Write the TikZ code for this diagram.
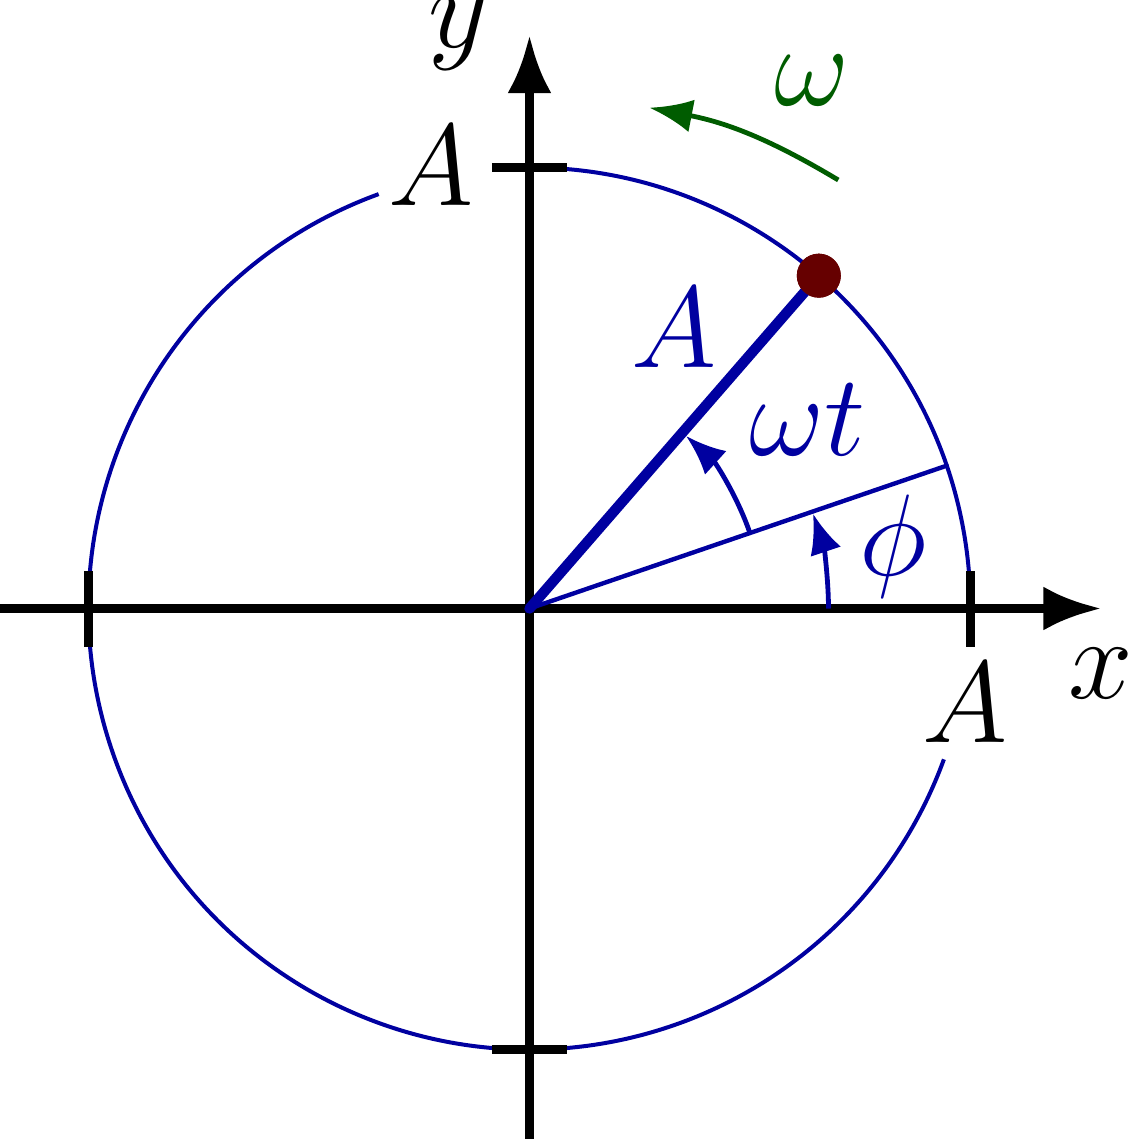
\documentclass[tikz,border=0pt]{standalone}
\usetikzlibrary{arrows.meta}
\definecolor{cblue}{HTML}{0000A0}
\definecolor{cred}{HTML}{660000}
\definecolor{cgreen}{HTML}{005C00}
\begin{document}
\begin{tikzpicture}[x=0.25pt,y=0.25pt,
  axis/.style={line width=2.25pt, -{Latex[length=14.5pt,width=11pt]}},
  tickmark/.style={line width=2.3pt},
  circ/.style={cblue, line width=1pt},
  vec/.style={cblue, line width=2.6pt, line cap=round},
  thinvec/.style={cblue, line width=1.1pt, line cap=round},
  angarc/.style={cblue, line width=1.2pt, -{Latex[length=10pt,width=8pt]}},
  omarc/.style={cgreen, line width=1.2pt, -{Latex[length=10.75pt,width=8.25pt]}},
  lbl/.style={anchor=base, inner sep=0pt, font=\Huge, scale=1.1656},
]
\useasboundingbox (-529.5,-530.5) rectangle (600.5,608.5);
\coordinate (O) at (0,0);
\coordinate (xs) at (-529.5,0);
\coordinate (xe) at (572,0);
\coordinate (ys) at (0,-530.5);
\coordinate (ye) at (0,573.5);
\coordinate (Q) at (18.9:441);
\coordinate (wa) at (308.8,428.5);
\coordinate (wb) at (119.8,500.8);
% circle (two arcs, gaps behind labels)
\draw[circ] (4.5:441) arc[start angle=4.5, end angle=94.5, radius=441];
\draw[circ] (110:441) arc[start angle=110, end angle=340, radius=441];
% axes
\draw[axis] (xs) -- (xe);
\draw[axis] (ys) -- (ye);
% ticks
\draw[tickmark] (441,-38) -- (441,38);
\draw[tickmark] (-441,-38) -- (-441,38);
\draw[tickmark] (-37.5,441) -- (37.5,441);
\draw[tickmark] (-37.5,-441) -- (37.5,-441);
% phase line and vector
\draw[thinvec] (O) -- (Q);
\node[circle, fill=cred, inner sep=0pt, minimum size=11pt] (dot) at (49:441) {};
\draw[vec] (O) -- (dot.center);
\node[circle, fill=cred, inner sep=0pt, minimum size=11pt] at (dot.center) {};
% angle arcs
\draw[angarc] (299,0) arc[start angle=0, end angle=18.5, radius=299];
\draw[angarc] (18.9:233) arc[start angle=18.9, end angle=47.8, radius=233];
\draw[omarc] (wa) to[bend right=10] (wb);
% labels
\node[lbl] (Atop) at (-98,403.5) {$A$};
\node[lbl] (Aright) at (436,-133.5) {$A$};
\node[lbl] (xl) at (571.5,-89.5) {$x$};
\node[lbl] (yl) at (-71.5,561) {$y$};
\node[lbl, text=cblue] (Avec) at (145,241.5) {$A$};
\node[lbl, text=cblue] (wt) at (278,153.5) {$\omega t$};
\node[lbl, text=cblue] (ph) at (363.5,33) {$\phi$};
\node[lbl, text=cgreen] (w) at (282,503.5) {$\omega$};
\end{tikzpicture}
\end{document}
